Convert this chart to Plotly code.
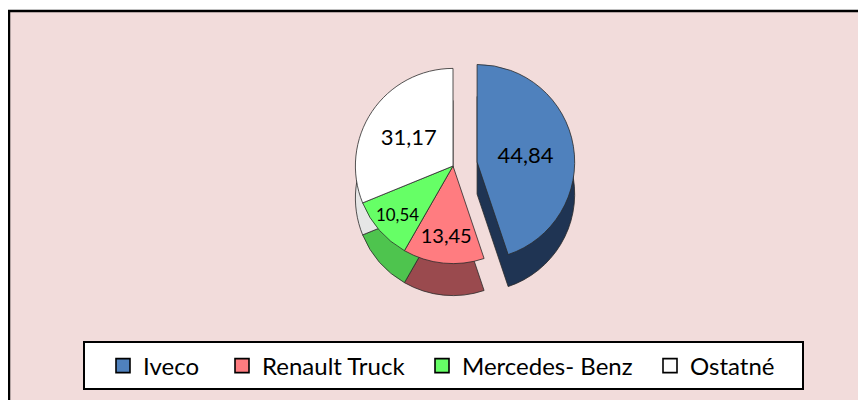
import plotly.graph_objects as go

categories = ["Iveco", "Renault Truck", "Mercedes- Benz", "Ostatné"]
values = [44.84, 13.45, 10.54, 31.17]
top_colors = ["#4F81BD", "#FF7C80", "#66FF66", "#FFFFFF"]
side_colors = ["#1F3453", "#9A4A4E", "#4EC44E", "#E6E6E6"]
pulls = [0.25, 0, 0, 0]

labels_txt = [f"{v:.2f}".replace(".", ",") for v in values]

# the page has an 8px body margin; the figure is sized to fill the rest of the window
OFF = 8
W, H = 866 - OFF, 400 - OFF
FONT = "Lato, Calibri, 'Open Sans', sans-serif"

def py(page_y):
    return 1 - (page_y - OFF) / H

def px_(page_x):
    return (page_x - OFF) / W

cx, cy, half, depth = 453, 166, 122, 32
fig = go.Figure()

dom_x = [px_(cx - 300), px_(cx + 300)]

# side (depth) layer
fig.add_trace(go.Pie(
    labels=categories, values=values, sort=False, direction="clockwise", rotation=0,
    pull=pulls, marker=dict(colors=side_colors, line=dict(color="#2a2a2a", width=0.8)),
    textinfo="none", hoverinfo="skip", showlegend=False,
    domain=dict(x=dom_x, y=[py(cy + depth + half), py(cy + depth - half)]),
))

# top surface
fig.add_trace(go.Pie(
    labels=categories, values=values, sort=False, direction="clockwise", rotation=0,
    pull=pulls, marker=dict(colors=top_colors, line=dict(color="#2a2a2a", width=0.8)),
    text=labels_txt, textinfo="text", textposition="inside",
    insidetextorientation="horizontal",
    textfont=dict(family=FONT, size=22, color="#000000"),
    showlegend=False,
    domain=dict(x=dom_x, y=[py(cy + half), py(cy - half)]),
))

# legend entries (one legend per entry so they can be spaced like the original)
legend_text_x = [143, 262, 462, 690]
legend_names = ["legend", "legend2", "legend3", "legend4"]
legend_layout = {}
for name, color, lg, tx in zip(categories, top_colors, legend_names, legend_text_x):
    fig.add_trace(go.Scatter(
        x=[None], y=[None], mode="markers", name=name, legend=lg,
        marker=dict(symbol="square", size=14, color=color,
                    line=dict(color="#000000", width=1.6)),
        hoverinfo="skip",
    ))
    legend_layout[lg] = dict(
        orientation="h", x=px_(tx - 40), xanchor="left", y=py(366), yanchor="middle",
        bgcolor="rgba(0,0,0,0)", borderwidth=0,
        font=dict(family=FONT, size=24, color="#000000"),
    )

fig.update_layout(
    width=W, height=H,
    margin=dict(l=0, r=0, t=0, b=0),
    paper_bgcolor="#FFFFFF",
    plot_bgcolor="rgba(0,0,0,0)",
    font=dict(family=FONT, size=24, color="#000000"),
    showlegend=True,
    xaxis=dict(visible=False),
    yaxis=dict(visible=False),
    shapes=[
        dict(type="rect", xref="paper", yref="paper", layer="below",
             x0=px_(9), x1=1.02, y0=-0.02, y1=py(11),
             fillcolor="#F2DCDB", line=dict(color="#000000", width=2.5)),
        dict(type="rect", xref="paper", yref="paper", layer="below",
             x0=px_(84), x1=px_(803), y0=py(389), y1=py(342),
             fillcolor="#FFFFFF", line=dict(color="#000000", width=2)),
    ],
    **legend_layout,
)

fig.write_html("out.html")
